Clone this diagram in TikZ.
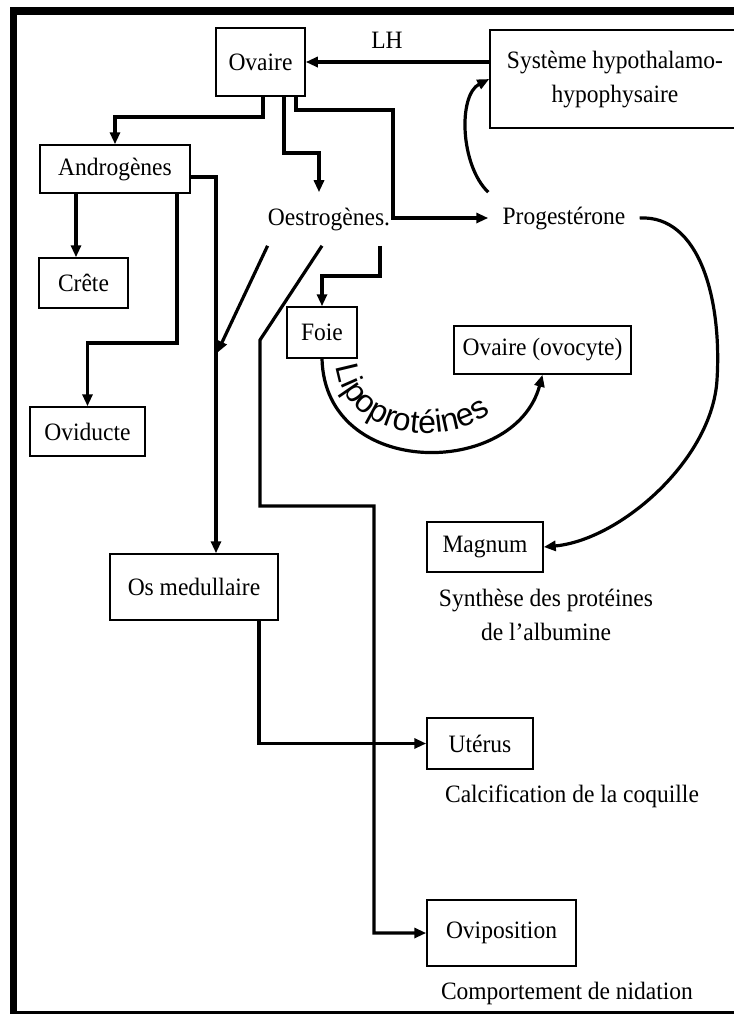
\documentclass[tikz,border=0pt]{standalone}
\usepackage{fontspec}
\setmainfont{Liberation Serif}[FakeStretch=0.94]
\newfontfamily\lipofont{Liberation Sans}
\usetikzlibrary{arrows.meta,decorations.text}
\begin{document}
\begin{tikzpicture}[x=0.5pt,y=-0.5pt,
    font=\fontsize{12.5}{17}\selectfont,
    cadre/.style={draw,line width=0.75pt,inner sep=0pt},
    fleche/.style={line width=1.6pt,-{Triangle[length=6pt,width=5pt]}}]
    \useasboundingbox (0,0) rectangle (734,1014);
    \fill (10,7) rectangle (740,15);
    \fill (10,7) rectangle (16.5,1016);
    \fill (10,1011) rectangle (740,1016);
    \node[cadre,minimum width=44.5pt,minimum height=34pt] (ovaire) at (260.5,62) {Ovaire};
    \node[cadre,minimum width=125pt,minimum height=49pt,align=center] (sys) at (615,79) {Système hypothalamo-\\hypophysaire};
    \node (lh) at (387,40) {LH};
    \node[cadre,minimum width=75pt,minimum height=24pt] (androg) at (115,169) {Androgènes};
    \node[inner xsep=0pt,inner ysep=7.5pt] (oestro) at (329,219) {Oestrogènes.};
    \node[inner sep=7pt] (prog) at (564,218) {Progestérone};
    \node[cadre,minimum width=44.5pt,minimum height=25pt] (crete) at (83.5,283) {Crête};
    \node[cadre,minimum width=57.5pt,minimum height=24.5pt] (oviducte) at (87.5,431.5) {Oviducte};
    \node[cadre,minimum width=35pt,minimum height=25.5pt] (foie) at (322,332.5) {Foie};
    \node[cadre,minimum width=88.5pt,minimum height=24pt] (ovocyte) at (542.5,350) {Ovaire (ovocyte)};
    \node[cadre,minimum width=84pt,minimum height=33pt] (os) at (194,587) {Os medullaire};
    \node[cadre,minimum width=58pt,minimum height=25pt] (magnum) at (485,547) {Magnum};
    \node[align=center] (synth) at (546,615) {Synthèse des protéines\\de l’albumine};
    \node[cadre,minimum width=53pt,minimum height=25.5pt] (uterus) at (480,743.5) {Utérus};
    \node (calcif) at (572,796) {Calcification de la coquille};
    \node[cadre,minimum width=74.5pt,minimum height=33pt] (ovip) at (501.5,933) {Oviposition};
    \node (comport) at (567,993) {Comportement de nidation};
    \coordinate (jonction) at (217,353);
    \draw[fleche] (ovaire.east -| sys.west) -- (ovaire.east);
    \draw[fleche] (263,0 |- ovaire.south) -- (263,117) -| (androg.north);
    \draw[fleche] (284,0 |- ovaire.south) -- (284,153) -| (319,0 |- oestro.north);
    \draw[fleche] (296,0 |- ovaire.south) -- (296,110) -- (393,110) |- (prog.west);
    \draw[fleche] (prog.north west) .. controls (460,165) and (458,95) .. (sys.west);
    \draw[fleche] (prog.east) .. controls (700,215) and (722,300) .. (717,380)
        .. controls (712,460) and (620,540) .. (magnum.east);
    \draw[fleche] (76,0 |- androg.south) -- (76,0 |- crete.north);
    \draw[fleche] (177,0 |- androg.south) -- (177,343) -| (oviducte.north);
    \draw[fleche] ([yshift=-4pt]androg.east) -| (216,0 |- os.north);
    \draw[fleche] (oestro.south west) -- (jonction);
    \draw[fleche] (322,0 |- oestro.south) -- (260,340) -- (260,506) -- (374,506) |- (ovip.west);
    \draw[fleche] (380,0 |- oestro.south) -- (380,276) -| (foie.north);
    \draw[fleche] (259,0 |- os.south) |- (uterus.west);
    \draw[fleche] (foie.south) .. controls (325,480) and (515,478) .. (ovocyte.south);
    \path[decorate,decoration={text along path,text align=left,
        text={|\lipofont\fontsize{16}{16}\selectfont|Lipoprotéines}}]
        (336,366) .. controls (345,445) and (470,455) .. (510,392);
\end{tikzpicture}
\end{document}
